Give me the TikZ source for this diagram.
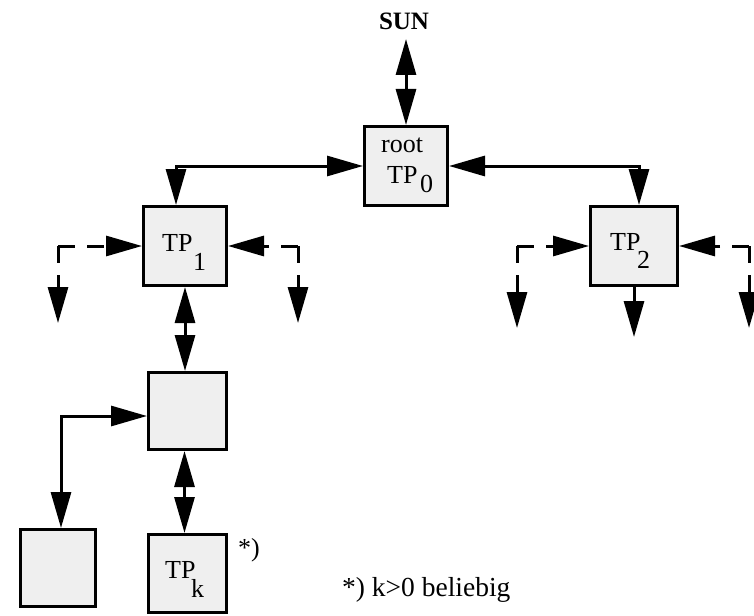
\documentclass[tikz,border=0pt]{standalone}
\usepackage{fontspec}
\setmainfont{Liberation Serif}
\usetikzlibrary{arrows.meta}
\definecolor{boxgray}{HTML}{EFEFEF}
\begin{document}
\begin{tikzpicture}[x=1pt,y=-1pt,
  box/.style={draw=black, line width=3pt, fill=boxgray, inner sep=0pt},
  lbl/.style={inner sep=0pt, anchor=base west, font=\fontsize{26}{30}\selectfont},
  link/.style={line width=3pt, -{Triangle[length=36pt,width=20pt]}},
  dlink/.style={line width=3pt, {Triangle[length=36pt,width=20pt]}-{Triangle[length=36pt,width=20pt]}},
  dashlink/.style={line width=3pt, dash pattern=on 17pt off 12pt, -{Triangle[length=36pt,width=20pt]}}
]
\useasboundingbox (0,0) rectangle (754,615);

% processor boxes
\node[box, minimum width=83pt, minimum height=79pt] (root) at (406,166) {};
\node[box, minimum width=83pt, minimum height=79pt] (tp1) at (185,246) {};
\node[box, minimum width=87pt, minimum height=79pt] (tp2) at (634,246) {};
\node[box, minimum width=78pt, minimum height=77pt] (mid) at (187.5,411) {};
\node[box, minimum width=78pt, minimum height=78pt] (tpk) at (187.5,573.5) {};
\node[box, minimum width=75pt, minimum height=77pt] (leaf) at (58,568) {};

% labels
\node[inner sep=0pt, anchor=base, font=\fontsize{25}{30}\selectfont\bfseries] (sun) at (404,30) {SUN};
\node[lbl] (rootlbl) at (381,152) {root};
\node[lbl] (tp0a) at (387,183) {TP};
\node[lbl] (tp0b) at (420,192) {0};
\node[lbl] (tp1a) at (162,251) {TP};
\node[lbl] (tp1b) at (193,270) {1};
\node[lbl] (tp2a) at (610,250) {TP};
\node[lbl] (tp2b) at (637,268) {2};
\node[lbl] (tpka) at (165,578) {TP};
\node[lbl] (tpkb) at (191,597) {k};
\node[lbl] (star) at (238,556) {*)};
\node[lbl, font=\fontsize{27.5}{30}\selectfont] (note) at (342,596) {*) k>0 beliebig};

% free ends of the links
\coordinate (sunend) at (406,39);
\coordinate (c1l) at (58,246);
\coordinate (t1l) at (58,323);
\coordinate (c1r) at (298,246);
\coordinate (t1r) at (298,323);
\coordinate (c2l) at (517,246);
\coordinate (t2l) at (517,328);
\coordinate (c2r) at (749,246);
\coordinate (t2r) at (749,328);
\coordinate (t2m) at (634,337);

% solid connectors
\draw[dlink] (root.north) -- (sunend);
\draw[dlink] (root.west) -| ([xshift=-9pt]tp1.north);
\draw[dlink] (root.east) -| ([xshift=5pt]tp2.north);
\draw[dlink] (tp1.south) -- (tp1.south |- mid.north);
\draw[dlink] ([xshift=-3pt]mid.south) -- ([xshift=-3pt]tpk.north);
\draw[dlink] ([yshift=-5pt]mid.west) -| ([xshift=3pt]leaf.north);
\draw[link] (tp2.south) -- (t2m);

% dashed connectors
\draw[dashlink] (c1l) -- (tp1.west);
\draw[dashlink] (c1l) -- (t1l);
\draw[dashlink] (c1r) -- (tp1.east);
\draw[dashlink] (c1r) -- (t1r);
\draw[dashlink] (c2l) -- (tp2.west);
\draw[dashlink] (c2l) -- (t2l);
\draw[dashlink] (c2r) -- (tp2.east);
\draw[dashlink] (c2r) -- (t2r);
\end{tikzpicture}
\end{document}
